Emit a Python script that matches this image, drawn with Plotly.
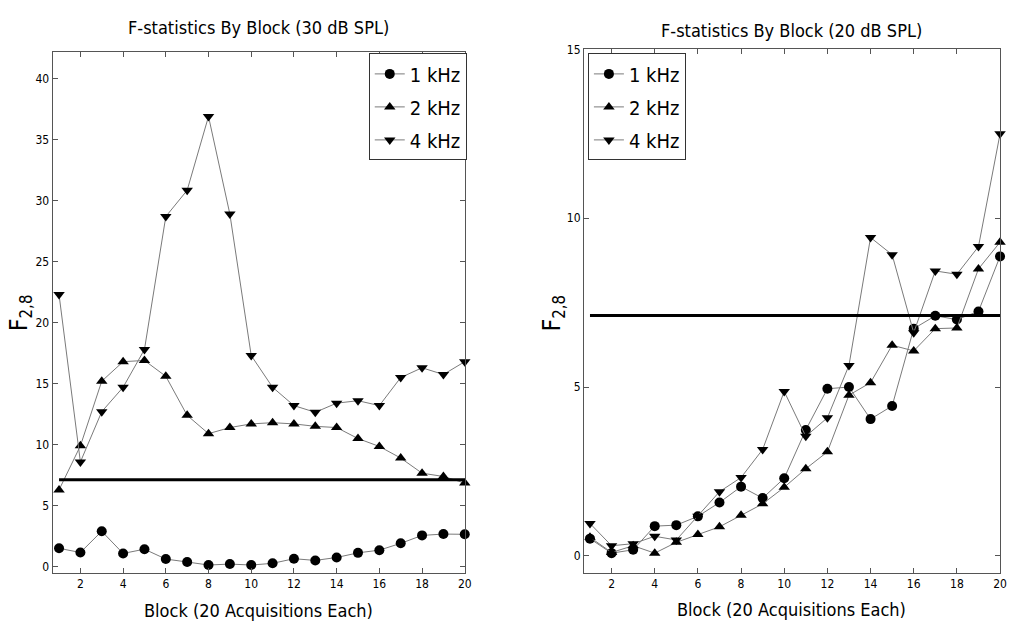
import plotly.graph_objects as go

# Block index (20 acquisitions each)
blocks = list(range(1, 21))

# F-statistics at 30 dB SPL
f30_1k = [1.50, 1.16, 2.90, 1.08, 1.43, 0.62, 0.38, 0.13, 0.21, 0.13,
          0.27, 0.65, 0.51, 0.75, 1.13, 1.35, 1.91, 2.56, 2.67, 2.65]
f30_2k = [6.29, 9.90, 15.2, 16.8, 16.9, 15.6, 12.4, 10.9, 11.4, 11.7,
          11.8, 11.7, 11.5, 11.4, 10.5, 9.85, 8.90, 7.66, 7.39, 6.85]
f30_4k = [22.3, 8.58, 12.7, 14.7, 17.8, 28.7, 30.85, 36.9, 28.9, 17.3,
          14.7, 13.2, 12.65, 13.4, 13.6, 13.2, 15.5, 16.3, 15.75, 16.8]

# F-statistics at 20 dB SPL
f20_1k = [0.51, 0.08, 0.18, 0.88, 0.91, 1.17, 1.58, 2.05, 1.71, 2.30,
          3.73, 4.95, 5.00, 4.05, 4.44, 6.73, 7.11, 7.00, 7.24, 8.87]
f20_2k = [0.55, 0.10, 0.30, 0.08, 0.40, 0.63, 0.86, 1.20, 1.54, 2.03,
          2.58, 3.08, 4.76, 5.13, 6.24, 6.07, 6.73, 6.75, 8.50, 9.29]
f20_4k = [0.96, 0.30, 0.36, 0.58, 0.47, 1.17, 1.90, 2.32, 3.15, 4.87,
          3.54, 4.09, 5.64, 9.43, 8.92, 6.61, 8.44, 8.34, 9.16, 12.5]

# Critical value of F(2,8)
f_crit = 7.12

series_names = ["1 kHz", "2 kHz", "4 kHz"]
symbols = ["circle", "triangle-up", "triangle-down"]

W, H = 1013, 631
FONT = "Liberation Sans Narrow, DejaVu Sans Condensed, Arial Narrow, Arial, sans-serif"

fig = go.Figure()


def add_panel(ys, xa, ya, legend_name):
    for name, sym, y in zip(series_names, symbols, ys):
        fig.add_trace(go.Scatter(
            x=blocks, y=y, name=name, mode="lines+markers",
            xaxis=xa, yaxis=ya, legend=legend_name, legendgroup=legend_name + name,
            line=dict(color="#7a7a7a", width=1),
            marker=dict(symbol=sym, size=10, color="black",
                        line=dict(color="black", width=0)),
            cliponaxis=False,
        ))
    fig.add_trace(go.Scatter(
        x=[blocks[0], blocks[-1]], y=[f_crit, f_crit], mode="lines",
        xaxis=xa, yaxis=ya, showlegend=False,
        line=dict(color="black", width=3),
    ))


add_panel([f30_1k, f30_2k, f30_4k], "x", "y", "legend")
add_panel([f20_1k, f20_2k, f20_4k], "x2", "y2", "legend2")

axis_common = dict(
    showgrid=False, zeroline=False, showline=True, linecolor="#555555", linewidth=1,
    mirror="ticks", ticks="inside", ticklen=5, tickcolor="#555555",
    tickfont=dict(family=FONT, size=12, color="black"),
)

legend_common = dict(
    yanchor="top", bordercolor="#333333", borderwidth=1, bgcolor="white",
    font=dict(family=FONT, size=20), itemwidth=30, tracegroupgap=4,
    traceorder="grouped",
)

fig.update_layout(
    width=W, height=H,
    margin=dict(l=0, r=0, t=0, b=0),
    paper_bgcolor="white", plot_bgcolor="white",
    font=dict(family=FONT, color="black"),
    xaxis=dict(domain=[53 / W, 468 / W], range=[0.7, 20], tickvals=list(range(2, 21, 2)),
               anchor="y", **axis_common),
    yaxis=dict(domain=[1 - 573 / H, 1 - 46 / H], range=[-0.5, 42.15],
               tickvals=list(range(0, 41, 5)), anchor="x", **axis_common),
    xaxis2=dict(domain=[588 / W, 1007 / W], range=[0.72, 20], tickvals=list(range(2, 21, 2)),
                anchor="y2", **axis_common),
    yaxis2=dict(domain=[1 - 573 / H, 1 - 43 / H], range=[-0.5, 15],
                tickvals=[0, 5, 10, 15], anchor="x2", **axis_common),
    legend=dict(x=470 / W, xanchor="right", y=1 - 47 / H, **legend_common),
    legend2=dict(x=592 / W, xanchor="left", y=1 - 47 / H, **legend_common),
)

annotations = [
    dict(text="F-statistics By Block (30 dB SPL)", x=260 / W, y=1 - 21 / H, size=18),
    dict(text="F-statistics By Block (20 dB SPL)", x=797 / W, y=1 - 24 / H, size=18),
    dict(text="Block (20 Acquisitions Each)", x=260 / W, y=1 - 611 / H, size=18),
    dict(text="Block (20 Acquisitions Each)", x=797 / W, y=1 - 610 / H, size=18),
]
for a in annotations:
    fig.add_annotation(text=a["text"], x=a["x"], y=a["y"], xref="paper", yref="paper",
                       xanchor="center", yanchor="middle", showarrow=False,
                       font=dict(family=FONT, size=a["size"], color="black"))

for xpos in (20, 557):
    fig.add_annotation(text="F<sub>2,8</sub>", x=xpos / W, y=1 - 310 / H,
                       xref="paper", yref="paper", xanchor="center", yanchor="middle",
                       textangle=-90, showarrow=False,
                       font=dict(family=FONT, size=24, color="black"))

fig.write_html("out.html")
